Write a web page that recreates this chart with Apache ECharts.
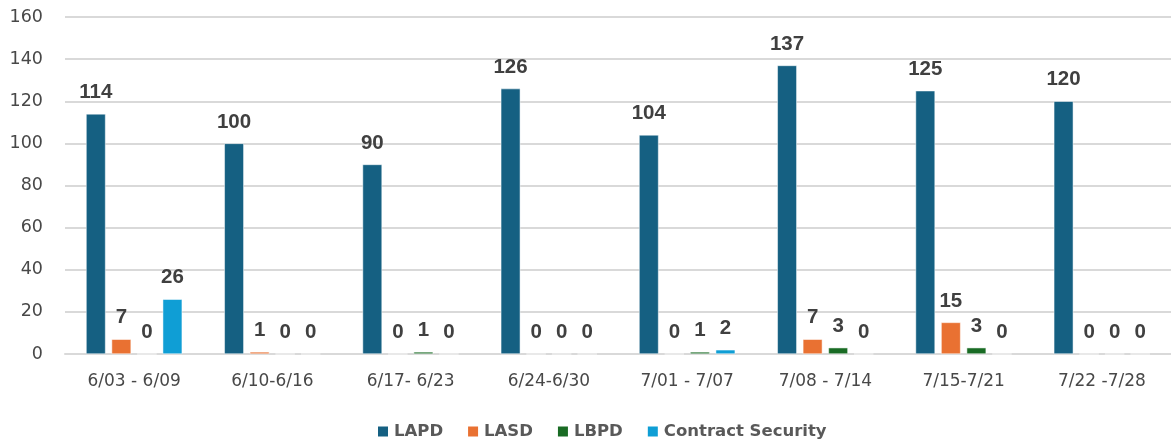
<!DOCTYPE html>
<html><head><meta charset="utf-8">
<script src="https://cdn.jsdelivr.net/npm/echarts@6/dist/echarts.min.js"></script>
<style>html,body{margin:0;padding:0;background:#fff}#c{width:1171px;height:443px}</style>
</head><body><div id="c"></div>
<script>
const categories = ['6/03 - 6/09','6/10-6/16','6/17- 6/23','6/24-6/30','7/01 - 7/07','7/08 - 7/14','7/15-7/21','7/22 -7/28'];
const lapd = [114,100,90,126,104,137,125,120];
const lasd = [7,1,0,0,0,7,15,0];
const lbpd = [0,0,1,0,1,3,3,0];
const contractSecurity = [26,0,0,0,2,0,0,0];
const yTicks = [0,20,40,60,80,100,120,140,160];

const labFont = 'Liberation Sans, Arial, sans-serif';
const axFont = 'DejaVu Sans, sans-serif';
function s(name, data, color){
  return {name, type:'bar', data, barWidth:19.5, barGap:'31%',
    itemStyle:{color, borderColor:'#fff', borderWidth:0.5},
    label:{show:true, position:'top', distance:11, fontFamily:labFont, fontSize:20.5, fontWeight:'bold', color:'#404040'}};
}
const chart = echarts.init(document.getElementById('c'));
chart.setOption({
  animation:false,
  grid:{left:65, right:-8, top:17, bottom:89, containLabel:false},
  legend:{top:418, left:371, itemWidth:12, itemHeight:12, itemGap:23, icon:'rect',
    textStyle:{fontFamily:axFont, fontSize:16.5, fontWeight:'bold', color:'#595959'}},
  xAxis:{type:'category', data:categories, axisTick:{show:false},
    axisLine:{lineStyle:{color:'#d9d9d9', width:2}},
    axisLabel:{fontFamily:axFont, fontSize:17, color:'#484848', margin:19}},
  yAxis:{type:'value', min:yTicks[0], max:yTicks[yTicks.length-1], interval:20,
    axisLine:{show:false}, axisTick:{show:false},
    splitLine:{lineStyle:{color:'#d9d9d9', width:2}},
    axisLabel:{fontFamily:axFont, fontSize:17.5, color:'#484848', margin:22}},
  series:[s('LAPD',lapd,'#156082'), s('LASD',lasd,'#E97132'), s('LBPD',lbpd,'#196B24'), s('Contract Security',contractSecurity,'#0F9ED5')]
});
</script></body></html>
